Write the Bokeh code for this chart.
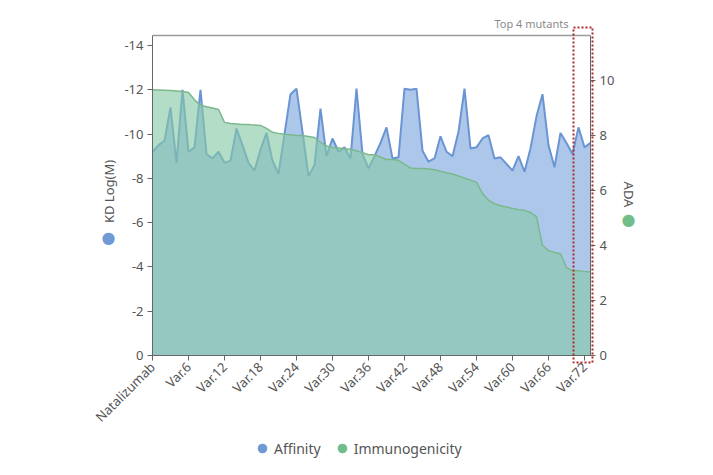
from math import pi

from bokeh.embed import file_html
from bokeh.layouts import column
from bokeh.models import (BoxAnnotation, ColumnDataSource, FixedTicker, Label,
                          Legend, LegendItem, LinearAxis, Range1d)
from bokeh.plotting import figure
from bokeh.resources import INLINE

# Antibody variants, ordered by immunogenicity (ADA)
categories = ["Natalizumab"] + [f"Var.{i}" for i in range(1, 74)]

# Binding affinity, KD as log10(M)
kd_log = [
    -9.2, -9.5, -9.7, -11.2, -8.7, -12.0, -9.2, -9.4, -12.0, -9.1,
    -8.9, -9.2, -8.7, -8.8, -10.25, -9.5, -8.7, -8.35, -9.3, -10.05,
    -8.8, -8.2, -10.0, -11.8, -12.05, -10.1, -8.1, -8.6, -11.15, -9.0,
    -9.8, -9.2, -9.4, -8.9, -12.05, -9.1, -8.45, -9.0, -9.6, -10.3,
    -8.9, -8.95, -12.05, -12.0, -12.05, -9.25, -8.75, -8.9, -9.9, -9.2,
    -9.0, -10.1, -12.05, -9.35, -9.4, -9.8, -9.95, -8.9, -8.95, -8.65,
    -8.35, -9.0, -8.3, -9.35, -10.8, -11.8, -9.5, -8.5, -10.05, -9.6,
    -9.1, -10.3, -9.4, -9.6,
]

# Anti-drug antibody score
ada = [
    9.67, 9.66, 9.65, 9.64, 9.62, 9.6, 9.57, 9.3, 9.1, 9.05,
    9.0, 8.95, 8.48, 8.44, 8.42, 8.4, 8.4, 8.38, 8.37, 8.26,
    8.12, 8.08, 8.05, 8.03, 8.0, 8.0, 7.97, 7.93, 7.75, 7.62,
    7.57, 7.55, 7.52, 7.5, 7.45, 7.38, 7.3, 7.3, 7.22, 7.13,
    7.13, 7.1, 6.95, 6.82, 6.8, 6.8, 6.78, 6.76, 6.7, 6.65,
    6.6, 6.53, 6.45, 6.38, 6.3, 5.9, 5.65, 5.52, 5.45, 5.4,
    5.35, 5.3, 5.28, 5.2, 5.05, 4.0, 3.82, 3.75, 3.7, 3.2,
    3.08, 3.08, 3.06, 3.05,
]

kd_ticks = [0, -2, -4, -6, -8, -10, -12, -14]
ada_ticks = [0, 2, 4, 6, 8, 10]
x_tick_step = 6
top_n = 4

FONT = "Noto Sans"
TEXT = "#555555"
AXIS = "#666666"
BLUE_LINE = "#6a95d2"
BLUE_FILL = "#5a8fd6"
GREEN_LINE = "#7ab98e"
GREEN_FILL = "#86c8a6"
BLUE_DOT = "#6f9ad6"
GREEN_DOT = "#72bd8c"

W = 713
H_MAIN, H_LEG = 440, 35
# canvas frame (large, so that annotations around the axes are not clipped)
CL, CR, CT, CB = 40, 673, 10, 364
# where the axes sit on the canvas
AL, AR, AT, AB = 152, 590, 35, 355
KD_SPAN = 14.45
ADA_SPAN = 11.64
n = len(categories)

x_per_px = (n - 1) / (AR - AL)
kd_per_px = KD_SPAN / (AB - AT)
ada_per_px = ADA_SPAN / (AB - AT)


def dx(px):
    """canvas pixel column -> x data value"""
    return (px - AL) * x_per_px


def dy(py):
    """canvas pixel row -> KD axis value"""
    return (py - AB) * kd_per_px


idx = list(range(n))
src = ColumnDataSource(dict(x=idx, kd=kd_log, ada=ada, zero=[0] * n))

p = figure(
    width=W, height=H_MAIN, output_backend="svg", toolbar_location=None,
    x_range=Range1d(dx(CL), dx(CR)),
    y_range=Range1d(dy(CB), dy(CT)),
    min_border_left=CL, min_border_right=W - CR,
    min_border_top=CT, min_border_bottom=H_MAIN - CB,
    background_fill_color="white", border_fill_color="white",
)
p.extra_y_ranges = {"ada": Range1d((AB - CB) * ada_per_px, (AB - CT) * ada_per_px)}
p.xgrid.visible = False
p.ygrid.visible = False
p.outline_line_color = None

# Affinity area (left axis)
p.varea(x="x", y1="zero", y2="kd", source=src, fill_color=BLUE_FILL, fill_alpha=0.5)
p.line(x="x", y="kd", source=src, line_color=BLUE_LINE, line_width=2)

# Immunogenicity area (right axis)
p.varea(x="x", y1="zero", y2="ada", source=src, y_range_name="ada",
        fill_color=GREEN_FILL, fill_alpha=0.62)
p.line(x="x", y="ada", source=src, y_range_name="ada",
       line_color=GREEN_LINE, line_width=1.5)


def style_axis(ax):
    ax.axis_line_color = AXIS
    ax.major_tick_line_color = AXIS
    ax.major_tick_in = 0
    ax.major_tick_out = 5
    ax.minor_tick_line_color = None
    ax.minor_tick_out = 0
    ax.major_label_text_font = FONT
    ax.major_label_text_font_size = "13px"
    ax.major_label_text_color = TEXT
    ax.major_label_standoff = 4


def hline_box(**kw):
    """an outline-only box annotation"""
    opts = dict(fill_color=None, fill_alpha=0, line_alpha=1)
    opts.update(kw)
    return BoxAnnotation(**opts)


# x axis: sits on the frame edge, its ticks reach up to the KD = 0 line
gap = CB - AB
xa = p.xaxis[0]
style_axis(xa)
xa.axis_line_color = None
xa.major_tick_in = gap
xa.major_tick_out = 5 - gap
xa.major_label_standoff = 0
xa.ticker = FixedTicker(ticks=idx[::x_tick_step])
xa.major_label_overrides = {i: categories[i] for i in idx[::x_tick_step]}
xa.major_label_orientation = pi / 4
# base line of the x axis at KD = 0
p.add_layout(hline_box(left=0, right=n - 1, top=0, bottom=0,
                       line_color=AXIS, line_width=1))

# left axis, pinned at the first variant
ya = p.yaxis[0]
style_axis(ya)
ya.fixed_location = 0
ya.bounds = (-KD_SPAN, 0)
ya.ticker = FixedTicker(ticks=kd_ticks)
ya.major_label_overrides = {t: f"{t}" for t in kd_ticks}

# right axis, pinned at the last variant
ra = LinearAxis(y_range_name="ada", ticker=FixedTicker(ticks=ada_ticks),
                fixed_location=n - 1, bounds=(0, ADA_SPAN))
style_axis(ra)
p.add_layout(ra, "right")

# top border of the plotting area (a box of zero height)
p.add_layout(hline_box(left=0, right=n - 1, top=-KD_SPAN, bottom=-KD_SPAN,
                       line_color="#9a9a9a", line_width=1.5))


def label(text, px, py, **kw):
    opts = dict(text_align="center", text_baseline="middle", text_font=FONT,
                text_font_size="13px", text_color=TEXT)
    opts.update(kw)
    return Label(x=dx(px), y=dy(py), text=text, **opts)


# axis titles with colour dots
p.add_layout(label("KD Log(M)", 108, 191, angle=pi / 2))
p.add_layout(label("●", 108, 237, text_font="DejaVu Sans",
                   text_font_size="16px", text_color=BLUE_DOT))
p.add_layout(label("ADA", 628, 194, angle=-pi / 2))
p.add_layout(label("●", 628, 219, text_font="DejaVu Sans",
                   text_font_size="16px", text_color=GREEN_DOT))

# highlight for the last variants
p.add_layout(label(f"Top {top_n} mutants", 568, 23, text_align="right",
                   text_font_size="11px", text_color="#8a8a8a"))
p.add_layout(hline_box(left=dx(573), right=dx(592), top=dy(27), bottom=dy(362),
                       line_color="#b02a2a", line_width=2, line_dash="2 2"))

# legend strip: marker renderers whose points fall outside its ranges
leg_fig = figure(
    width=W, height=H_LEG, output_backend="svg", toolbar_location=None,
    x_range=Range1d(1000, 1001), y_range=Range1d(1000, 1001),
    x_axis_location=None, y_axis_location=None, min_border=0,
    background_fill_color="white", border_fill_color="white",
)
leg_fig.outline_line_color = None
leg_fig.xgrid.visible = False
leg_fig.ygrid.visible = False
r_aff = leg_fig.scatter(x="x", y="kd", source=src, marker="circle", size=11,
                        fill_color=BLUE_DOT, line_color=None)
r_imm = leg_fig.scatter(x="x", y="ada", source=src, marker="circle", size=11,
                        fill_color=GREEN_DOT, line_color=None)
legend = Legend(
    items=[LegendItem(label="Affinity", renderers=[r_aff]),
           LegendItem(label="Immunogenicity", renderers=[r_imm])],
    orientation="horizontal", location=(210, 15),
    border_line_color=None, background_fill_alpha=0, padding=0, margin=0,
    spacing=9, glyph_width=24, glyph_height=24, label_standoff=0,
    label_text_font=FONT, label_text_font_size="14px",
    label_text_color=TEXT,
)
leg_fig.add_layout(legend, "center")

page = column(p, leg_fig, spacing=0)
open("out.html", "w").write(file_html(page, INLINE))
